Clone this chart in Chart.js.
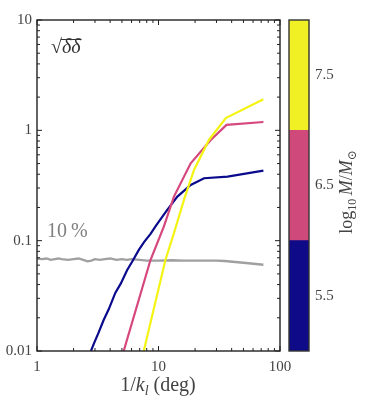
<!DOCTYPE html>
<html>
<head>
<meta charset="utf-8">
<script src="https://cdn.jsdelivr.net/npm/chart.js@4"></script>
<style>
  html, body { margin: 0; padding: 0; background: #fff; }
  #wrap { position: relative; width: 374px; height: 406px; }
  #wrap canvas { position: absolute; left: 0; top: 0; }
</style>
</head>
<body>
<div id="wrap">
  <canvas id="main" width="374" height="406"></canvas>
  <canvas id="cbar" width="374" height="406"></canvas>
</div>
<script>
// values (x = 1/k_l in deg, y = sqrt(delta delta))
const navyX = [2.78, 2.95, 3.2, 3.53, 3.9, 4.41, 4.9, 5.51, 6.1, 6.87, 7.6, 8.6, 9.6, 11.8, 14.3, 18.4, 23.7, 37, 73];
const navyY = [0.01, 0.0118, 0.0145, 0.019, 0.024, 0.0336, 0.041, 0.054, 0.065, 0.082, 0.097, 0.115, 0.138, 0.19, 0.251, 0.32, 0.368, 0.38, 0.431];

const pinkX = [5.17, 8.59, 11.06, 13.4, 18.4, 26.9, 36.3, 73];
const pinkY = [0.01, 0.0668, 0.134, 0.251, 0.503, 0.818, 1.12, 1.19];

const yellowX = [7.56, 11.4, 13.4, 16.2, 19.6, 26.0, 35.8, 73];
const yellowY = [0.01, 0.0668, 0.117, 0.234, 0.438, 0.818, 1.29, 1.91];

const grayX = [1, 1.1, 1.2, 1.3, 1.4, 1.5, 1.6, 1.8, 2.0, 2.2, 2.4, 2.6, 2.8, 3.0, 3.3, 3.6, 4.0, 4.5, 5, 5.5, 6, 7, 8, 9, 10, 13, 16, 20, 25, 30, 35, 50, 73];
const grayY = [0.069, 0.068, 0.069, 0.067, 0.068, 0.069, 0.068, 0.067, 0.068, 0.069, 0.067, 0.065, 0.066, 0.068, 0.067, 0.068, 0.069, 0.067, 0.068, 0.067, 0.068, 0.067, 0.066, 0.066, 0.066, 0.0665, 0.066, 0.066, 0.066, 0.066, 0.0655, 0.063, 0.0605];

const xTicks = [1, 10, 100];
const xTickLabels = ['1', '10', '100'];
const yTicks = [0.01, 0.1, 1, 10];
const yTickLabels = ['0.01', '0.1', '1', '10'];

// colour bar: log10 M / M_sun bins
const cbarEdges = [5, 6, 7, 8];
const cbarColors = ['#0e0a88', '#cf4a7b', '#f0f024'];
const cbarTicks = [5.5, 6.5, 7.5];
const cbarTickLabels = ['5.5', '6.5', '7.5'];

const SERIF = '"Liberation Serif", "DejaVu Serif", serif';
const TXT = '#444';

function pts(xs, ys) {
  return xs.map((x, i) => ({ x: x, y: ys[i] }));
}

// draw a row of text pieces with different fonts, centered on x
function drawRuns(ctx, runs, x, y) {
  let total = 0;
  runs.forEach(r => { ctx.font = r.f; r.w = ctx.measureText(r.t).width; total += r.w; });
  let cx = x - total / 2;
  ctx.textAlign = 'left';
  ctx.textBaseline = 'alphabetic';
  runs.forEach(r => {
    ctx.font = r.f;
    ctx.fillText(r.t, cx, y + (r.dy || 0));
    cx += r.w;
  });
}

// inward ticks on all four sides, major at decades
function logTicks(scale) {
  const out = [];
  const lo = Math.floor(Math.log10(scale.min));
  const hi = Math.ceil(Math.log10(scale.max));
  for (let e = lo; e <= hi; e++) {
    for (let m = 1; m <= 9; m++) {
      const v = m * Math.pow(10, e);
      if (v < scale.min * 0.999 || v > scale.max * 1.001) continue;
      out.push({ p: scale.getPixelForValue(v), major: m === 1 });
    }
  }
  return out;
}

const frame = {
  id: 'frame',
  afterDraw(chart) {
    const ctx = chart.ctx;
    const a = chart.chartArea;
    ctx.save();
    ctx.strokeStyle = '#222';
    ctx.lineWidth = 1;
    logTicks(chart.scales.x).forEach(t => {
      const len = t.major ? 5 : 3;
      ctx.beginPath();
      ctx.moveTo(t.p, a.bottom); ctx.lineTo(t.p, a.bottom - len);
      ctx.moveTo(t.p, a.top); ctx.lineTo(t.p, a.top + len);
      ctx.stroke();
    });
    logTicks(chart.scales.y).forEach(t => {
      const len = t.major ? 5 : 3;
      ctx.beginPath();
      ctx.moveTo(a.left, t.p); ctx.lineTo(a.left + len, t.p);
      ctx.moveTo(a.right, t.p); ctx.lineTo(a.right - len, t.p);
      ctx.stroke();
    });
    ctx.lineWidth = 1.4;
    ctx.strokeRect(a.left, a.top, a.right - a.left, a.bottom - a.top);

    // x-axis title
    ctx.fillStyle = TXT;
    drawRuns(ctx, [
      { t: '1/', f: '20px ' + SERIF },
      { t: 'k', f: 'italic 20px ' + SERIF },
      { t: 'l', f: 'italic 14px ' + SERIF, dy: 4 },
      { t: ' (deg)', f: '20px ' + SERIF }
    ], 158, 391);

    // sqrt(delta delta) label
    ctx.fillStyle = '#333';
    ctx.font = '20px ' + SERIF;
    ctx.textAlign = 'left';
    ctx.fillText('\u221A', 51, 53);
    const sw = ctx.measureText('\u221A').width;
    ctx.font = 'italic 20px ' + SERIF;
    ctx.fillText('\u03B4\u03B4', 51 + sw, 53);
    const dw = ctx.measureText('\u03B4\u03B4').width;
    ctx.strokeStyle = '#333';
    ctx.lineWidth = 1;
    ctx.beginPath();
    ctx.moveTo(51 + sw - 1, 39.5);
    ctx.lineTo(51 + sw + dw + 1, 39.5);
    ctx.stroke();

    // 10 % label
    ctx.fillStyle = '#808080';
    ctx.font = '20px ' + SERIF;
    ctx.fillText('10\u2009%', 47, 237);
    ctx.restore();
  }
};

new Chart(document.getElementById('main'), {
  type: 'line',
  data: {
    datasets: [
      { data: pts(yellowX, yellowY), borderColor: '#f4f414', borderWidth: 2.2 },
      { data: pts(pinkX, pinkY), borderColor: '#d6477d', borderWidth: 2.2 },
      { data: pts(navyX, navyY), borderColor: '#0a0a8c', borderWidth: 2.2 },
      { data: pts(grayX, grayY), borderColor: '#a0a0a0', borderWidth: 2.4 }
    ]
  },
  options: {
    responsive: false,
    animation: false,
    layout: { padding: { left: 0, top: 20, right: 94, bottom: 0 } },
    elements: { point: { radius: 0 }, line: { tension: 0 } },
    plugins: { legend: { display: false }, tooltip: { enabled: false } },
    scales: {
      x: {
        type: 'logarithmic', min: 1, max: 100,
        grid: { display: false, drawTicks: false }, border: { display: false },
        afterFit: s => { s.height = 55; },
        afterBuildTicks: s => { s.ticks = xTicks.map(v => ({ value: v })); },
        ticks: {
          callback: (v, i) => xTickLabels[i],
          autoSkip: false, maxRotation: 0, padding: 7,
          color: TXT, font: { family: SERIF, size: 15 }
        }
      },
      y: {
        type: 'logarithmic', min: 0.01, max: 10,
        grid: { display: false, drawTicks: false }, border: { display: false },
        afterFit: s => { s.width = 37; },
        afterBuildTicks: s => { s.ticks = yTicks.map(v => ({ value: v })); },
        ticks: {
          callback: (v, i) => yTickLabels[i],
          autoSkip: false, padding: 5,
          color: TXT, font: { family: SERIF, size: 15 }
        }
      }
    }
  },
  plugins: [frame]
});

const cbarFrame = {
  id: 'cbarFrame',
  afterDraw(chart) {
    const ctx = chart.ctx;
    const a = chart.chartArea;
    ctx.save();
    ctx.strokeStyle = '#333';
    ctx.lineWidth = 1.4;
    ctx.strokeRect(a.left, a.top, a.right - a.left, a.bottom - a.top);
    ctx.translate(352, 192);
    ctx.rotate(-Math.PI / 2);
    ctx.fillStyle = TXT;
    drawRuns(ctx, [
      { t: 'log', f: '18px ' + SERIF },
      { t: '10', f: '12px ' + SERIF, dy: 4 },
      { t: '\u2009', f: '18px ' + SERIF },
      { t: 'M', f: 'italic 18px ' + SERIF },
      { t: '/', f: '18px ' + SERIF },
      { t: 'M', f: 'italic 18px ' + SERIF },
      { t: '\u2299', f: '12px ' + SERIF, dy: 4 }
    ], 0, 0);
    ctx.restore();
  }
};

new Chart(document.getElementById('cbar'), {
  type: 'bar',
  data: {
    labels: [''],
    datasets: cbarColors.map((c, i) => ({
      data: [[cbarEdges[i], cbarEdges[i + 1]]],
      backgroundColor: c,
      borderWidth: 0,
      grouped: false,
      barPercentage: 1,
      categoryPercentage: 1
    }))
  },
  options: {
    responsive: false,
    animation: false,
    layout: { padding: { left: 289, top: 20, right: 0, bottom: 55 } },
    plugins: { legend: { display: false }, tooltip: { enabled: false } },
    scales: {
      x: { display: false },
      y: {
        position: 'right', min: 5, max: 8,
        grid: { display: false, drawTicks: false }, border: { display: false },
        afterFit: s => { s.width = 65; },
        afterBuildTicks: s => { s.ticks = cbarTicks.map(v => ({ value: v })); },
        ticks: {
          callback: (v, i) => cbarTickLabels[i],
          padding: 6, color: TXT, font: { family: SERIF, size: 15 }
        }
      }
    }
  },
  plugins: [cbarFrame]
});
</script>
</body>
</html>
